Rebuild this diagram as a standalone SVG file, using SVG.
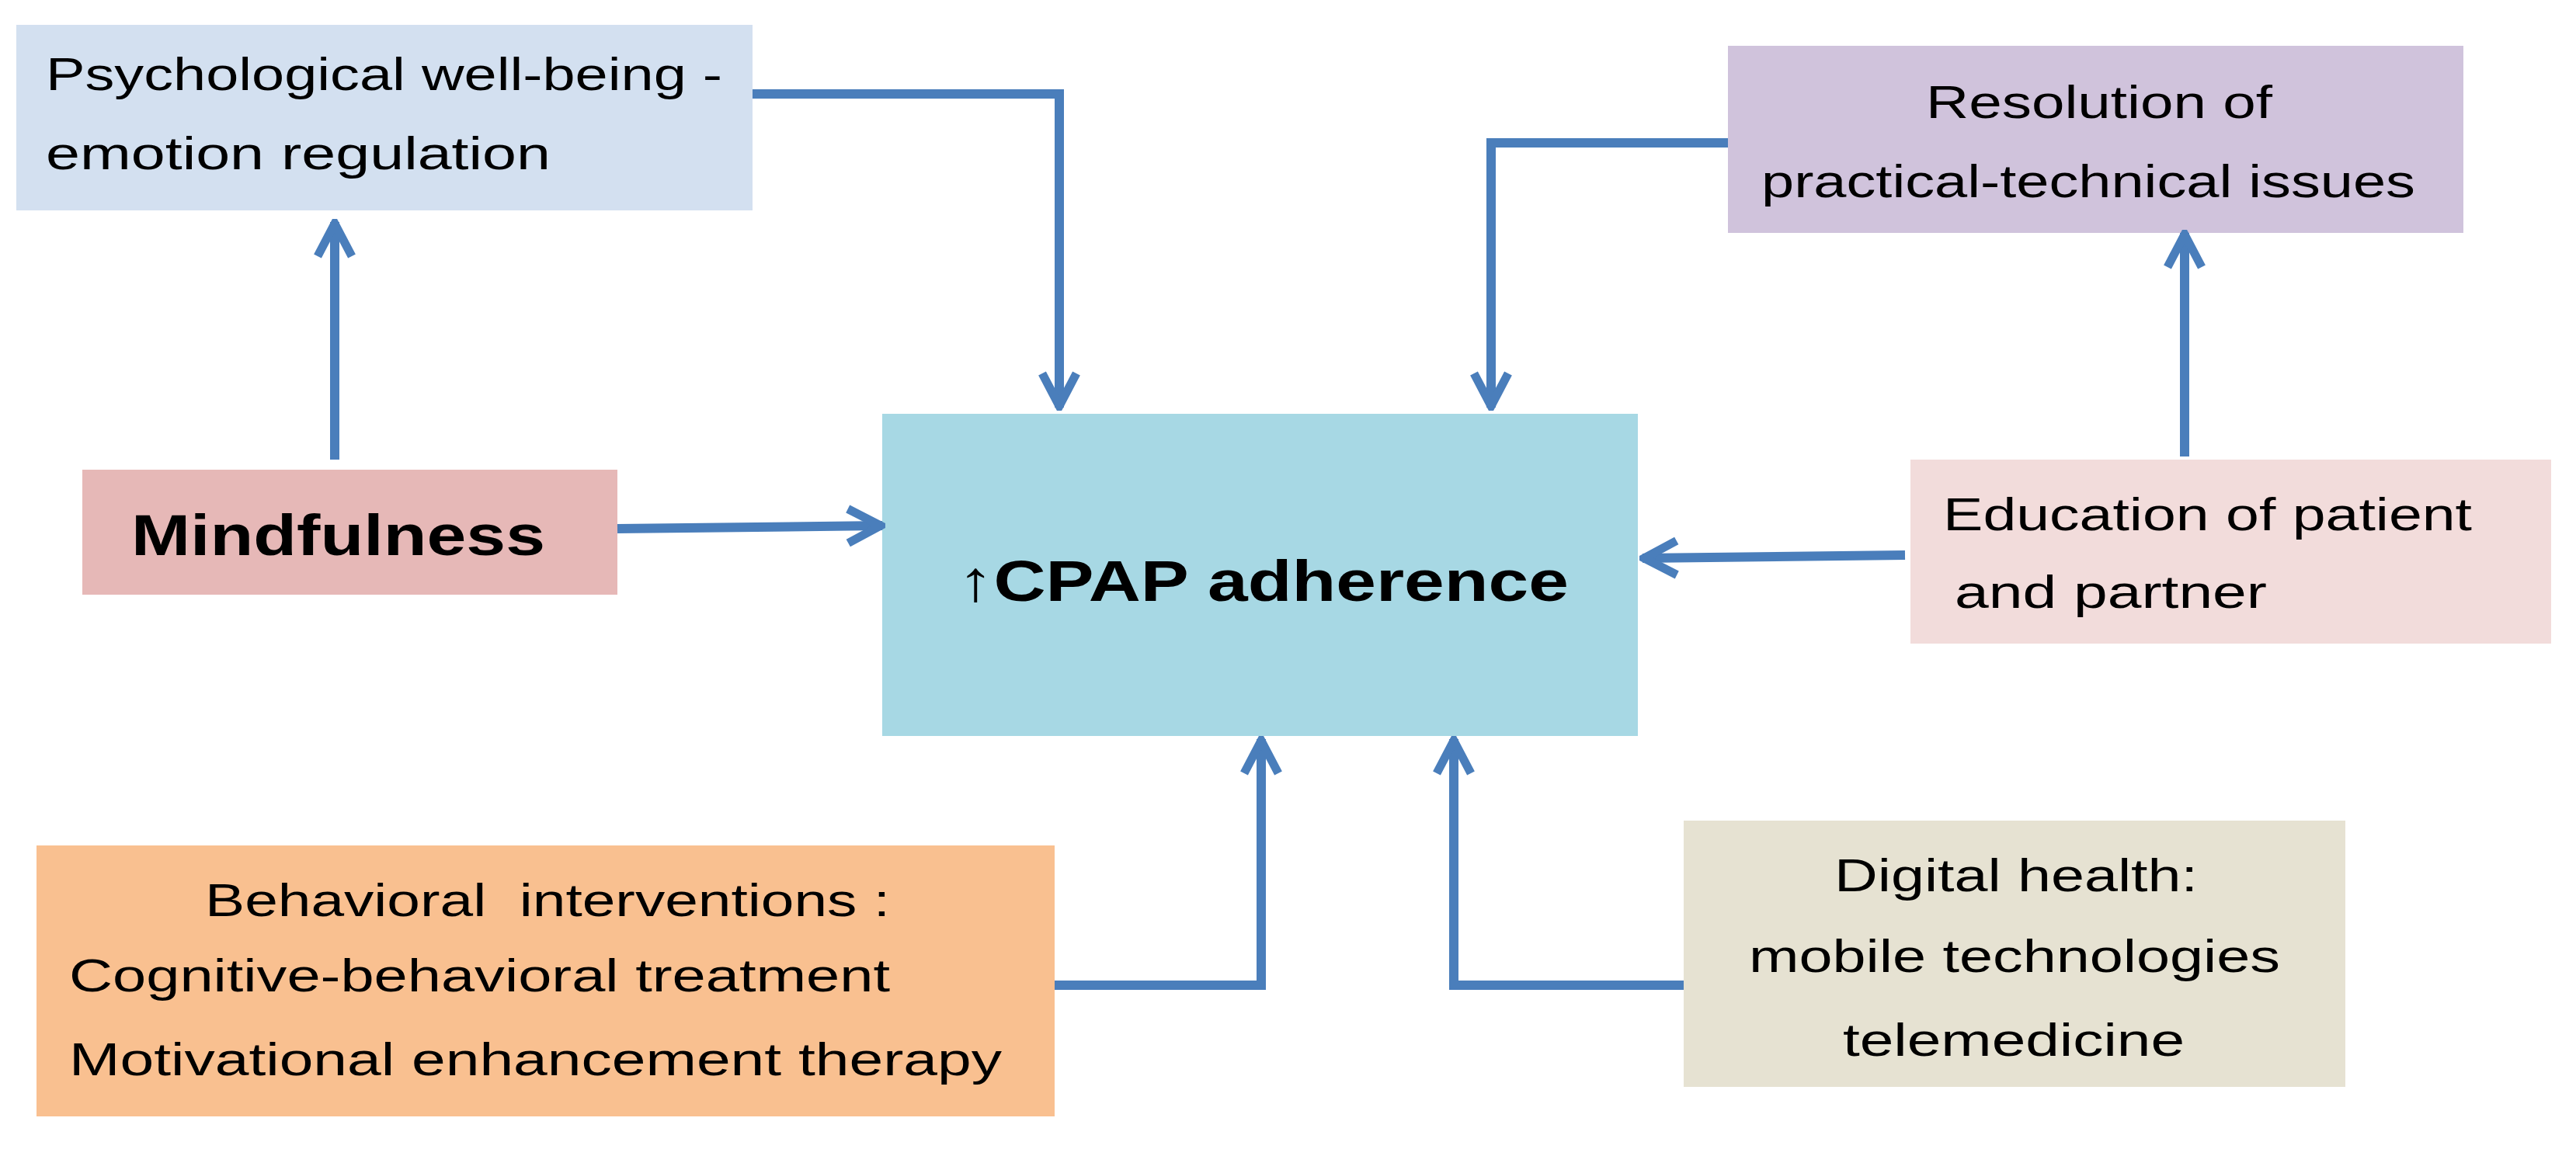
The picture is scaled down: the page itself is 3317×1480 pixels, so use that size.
<svg xmlns="http://www.w3.org/2000/svg" width="3317" height="1480" viewBox="0 0 3317 1480">
<style>
text{font-family:"Liberation Sans",Arial,sans-serif;font-size:60px;fill:#000}
.b{font-weight:bold;font-size:74px}
.c{stroke:#4a7ebb;stroke-width:12;fill:none}
</style>
<defs>
<marker id="a" markerUnits="userSpaceOnUse" viewBox="0 0 60 60" refX="56" refY="30" markerWidth="60" markerHeight="60" orient="auto">
<polyline points="12,8 54,30 12,52" fill="none" stroke="#4a7ebb" stroke-width="11"/>
</marker>
</defs>
<rect width="3317" height="1480" fill="#fff"/>
<g id="psych"><rect x="21" y="32" width="948" height="239" fill="#d3e0f0"/>
<text x="59" y="116" textLength="871" lengthAdjust="spacingAndGlyphs">Psychological well-being -</text>
<text x="59" y="218" textLength="650" lengthAdjust="spacingAndGlyphs">emotion regulation</text></g>
<g id="resolution"><rect x="2225" y="59" width="947" height="241" fill="#d0c3dc"/>
<text x="2703" y="152" text-anchor="middle" textLength="446" lengthAdjust="spacingAndGlyphs">Resolution of</text>
<text x="2689" y="254" text-anchor="middle" textLength="842" lengthAdjust="spacingAndGlyphs">practical-technical issues</text></g>
<g id="center"><rect x="1136" y="533" width="973" height="415" fill="#a7d8e4"/>
<text class="b" x="1233" y="774" textLength="787" lengthAdjust="spacingAndGlyphs">↑CPAP adherence</text></g>
<g id="mindfulness"><rect x="106" y="605" width="689" height="161" fill="#e6b8b7"/>
<text class="b" x="169" y="715" textLength="533" lengthAdjust="spacingAndGlyphs">Mindfulness</text></g>
<g id="education"><rect x="2460" y="592" width="825" height="237" fill="#f2dcdb"/>
<text x="2502" y="683" textLength="681" lengthAdjust="spacingAndGlyphs">Education of patient</text>
<text x="2517" y="783" textLength="402" lengthAdjust="spacingAndGlyphs">and partner</text></g>
<g id="behavioral"><rect x="47" y="1089" width="1311" height="349" fill="#f9c090"/>
<text x="264" y="1180" textLength="882" lengthAdjust="spacingAndGlyphs" xml:space="preserve">Behavioral  interventions :</text>
<text x="89" y="1277" textLength="1057" lengthAdjust="spacingAndGlyphs">Cognitive-behavioral treatment</text>
<text x="89" y="1385" textLength="1201" lengthAdjust="spacingAndGlyphs">Motivational enhancement therapy</text></g>
<g id="digital"><rect x="2168" y="1057" width="852" height="343" fill="#e6e2d2"/>
<text x="2362" y="1148" textLength="468" lengthAdjust="spacingAndGlyphs">Digital health:</text>
<text x="2252" y="1252" textLength="684" lengthAdjust="spacingAndGlyphs">mobile technologies</text>
<text x="2373" y="1360" textLength="440" lengthAdjust="spacingAndGlyphs">telemedicine</text></g>
<g id="connectors">
<path class="c" d="M431 592V286" marker-end="url(#a)"/>
<path class="c" d="M969 121H1364V525" marker-end="url(#a)"/>
<path class="c" d="M2225 184H1920V525" marker-end="url(#a)"/>
<path class="c" d="M2813 588V300" marker-end="url(#a)"/>
<path class="c" d="M795 681L1136 677" marker-end="url(#a)"/>
<path class="c" d="M2453 715L2115 719" marker-end="url(#a)"/>
<path class="c" d="M1358 1269H1624V952" marker-end="url(#a)"/>
<path class="c" d="M2168 1269H1872V952" marker-end="url(#a)"/>
</g>
</svg>
